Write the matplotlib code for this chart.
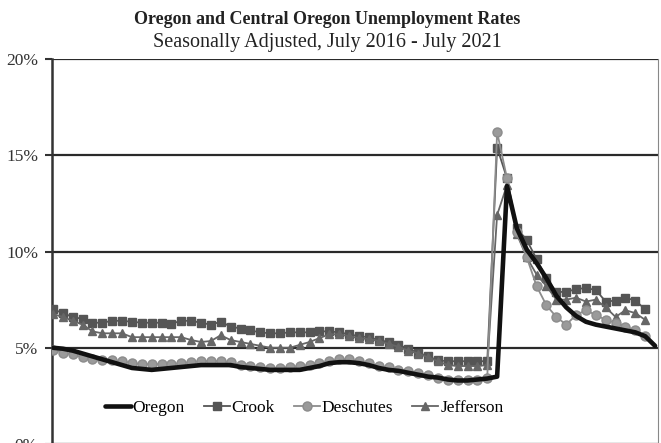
import matplotlib
matplotlib.use("Agg")
import matplotlib.pyplot as plt
from matplotlib.ticker import FuncFormatter

# Monthly unemployment rates (%)
oregon = [5.0, 4.95, 4.85, 4.7, 4.55, 4.4, 4.25, 4.1, 3.95, 3.9,
          3.85, 3.9, 3.95, 4.0, 4.05, 4.1, 4.1, 4.1, 4.1, 4.0,
          3.95, 3.9, 3.85, 3.85, 3.85, 3.85, 3.95, 4.05, 4.2, 4.25,
          4.25, 4.2, 4.1, 3.95, 3.85, 3.8, 3.7, 3.6, 3.5, 3.45,
          3.35, 3.3, 3.3, 3.35, 3.4, 3.5, 13.4, 11.2, 10.1, 9.4,
          8.6, 7.7, 7.1, 6.65, 6.35, 6.2, 6.1, 6.0, 5.9, 5.8,
          5.6, 5.1]
crook = [7.0, 6.8, 6.6, 6.5, 6.3, 6.3, 6.4, 6.4, 6.35, 6.3,
         6.3, 6.3, 6.25, 6.4, 6.4, 6.3, 6.2, 6.35, 6.1, 6.0,
         5.9, 5.8, 5.75, 5.75, 5.8, 5.8, 5.8, 5.85, 5.85, 5.8,
         5.7, 5.6, 5.55, 5.4, 5.3, 5.15, 4.95, 4.75, 4.55, 4.35,
         4.3, 4.3, 4.3, 4.3, 4.3, 15.4, 13.8, 11.2, 10.6, 9.6,
         8.6, 7.9, 7.9, 8.05, 8.1, 8.0, 7.4, 7.45, 7.6, 7.45,
         7.0]
deschutes = [4.9, 4.75, 4.65, 4.5, 4.4, 4.35, 4.35, 4.3, 4.2, 4.15,
             4.15, 4.15, 4.15, 4.2, 4.25, 4.3, 4.3, 4.3, 4.25, 4.1,
             4.05, 4.0, 3.95, 3.95, 4.0, 4.05, 4.1, 4.2, 4.3, 4.4,
             4.4, 4.3, 4.2, 4.05, 3.98, 3.87, 3.8, 3.7, 3.58, 3.45,
             3.35, 3.3, 3.3, 3.35, 3.45, 16.2, 13.8, 11.0, 9.7, 8.2,
             7.2, 6.6, 6.2, 6.7, 6.95, 6.7, 6.45, 6.3, 6.1, 5.9,
             5.6]
jefferson = [6.75, 6.6, 6.4, 6.2, 5.85, 5.75, 5.75, 5.75, 5.55, 5.55,
             5.55, 5.55, 5.55, 5.55, 5.4, 5.3, 5.35, 5.65, 5.4, 5.3,
             5.2, 5.1, 5.0, 5.0, 5.0, 5.15, 5.3, 5.5, 5.7, 5.7,
             5.6, 5.5, 5.45, 5.35, 5.2, 5.05, 4.85, 4.7, 4.5, 4.3,
             4.1, 4.05, 4.05, 4.05, 4.1, 11.9, 13.45, 10.9, 9.7, 8.8,
             8.2, 7.5, 7.5, 7.6, 7.4, 7.5, 7.1, 6.6, 6.95, 6.8,
             6.45]
series_names = ["Oregon", "Crook", "Deschutes", "Jefferson"]
y_ticks = [0, 5, 10, 15, 20]

plt.rcParams['font.family'] = ['Liberation Serif', 'DejaVu Serif']

fig = plt.figure(figsize=(6.61, 4.43), dpi=100)
ax = fig.add_axes([52/661, 1 - 444/443, 606/661, 385/443])

ax.plot(list(range(len(crook))), crook, color='#555555', lw=1.3, marker='s',
        ms=5.5, mfc='#555555', mec='#555555', label=series_names[1], zorder=3)
ax.plot(list(range(len(jefferson))), jefferson, color='#666666', lw=1.3, marker='^',
        ms=6, mfc='#666666', mec='#666666', label=series_names[3], zorder=3)
ax.plot(list(range(len(deschutes))), deschutes, color='#8c8c8c', lw=1.3, marker='o',
        ms=6.5, mfc='#9a9a9a', mec='#8c8c8c', label=series_names[2], zorder=4)
ax.plot(list(range(len(oregon))), oregon, color='#111111', lw=3.3, solid_capstyle='round',
        solid_joinstyle='round', label=series_names[0], zorder=5)

ax.set_xlim(-0.1, 61.3)
ax.set_ylim(0, 20)
ax.set_yticks(y_ticks)
ax.yaxis.set_major_formatter(FuncFormatter(lambda v, p: f"{int(v)}%"))
ax.set_xticks([])
ax.grid(axis='y', color='#2a2a2a', lw=1.6)
ax.set_axisbelow(True)
for s in ['top', 'bottom']:
    ax.spines[s].set_visible(False)
ax.spines['left'].set_color('#333333')
ax.spines['left'].set_linewidth(1.8)
ax.spines['right'].set_color('#888888')
ax.spines['right'].set_linewidth(0.8)
ax.tick_params(axis='y', length=5, width=1.5, color='#333333', labelsize=12.5,
               labelcolor='#333333', pad=5)

handles, labels = ax.get_legend_handles_labels()
order = [3, 0, 2, 1]
ax.legend([handles[i] for i in order], [labels[i] for i in order],
          loc='center', bbox_to_anchor=(0.416, 0.094), ncol=4, frameon=False,
          fontsize=12.5, handlelength=1.5, handletextpad=0.1, columnspacing=1.1)

fig.text(0.495, 0.955, "Oregon and Central Oregon Unemployment Rates",
         ha='center', va='center', fontsize=13, fontweight='bold', color='#222222')
fig.text(0.495, 0.903, "Seasonally Adjusted, July 2016 - July 2021",
         ha='center', va='center', fontsize=14.5, color='#222222')

fig.savefig("out.png", dpi=100)
